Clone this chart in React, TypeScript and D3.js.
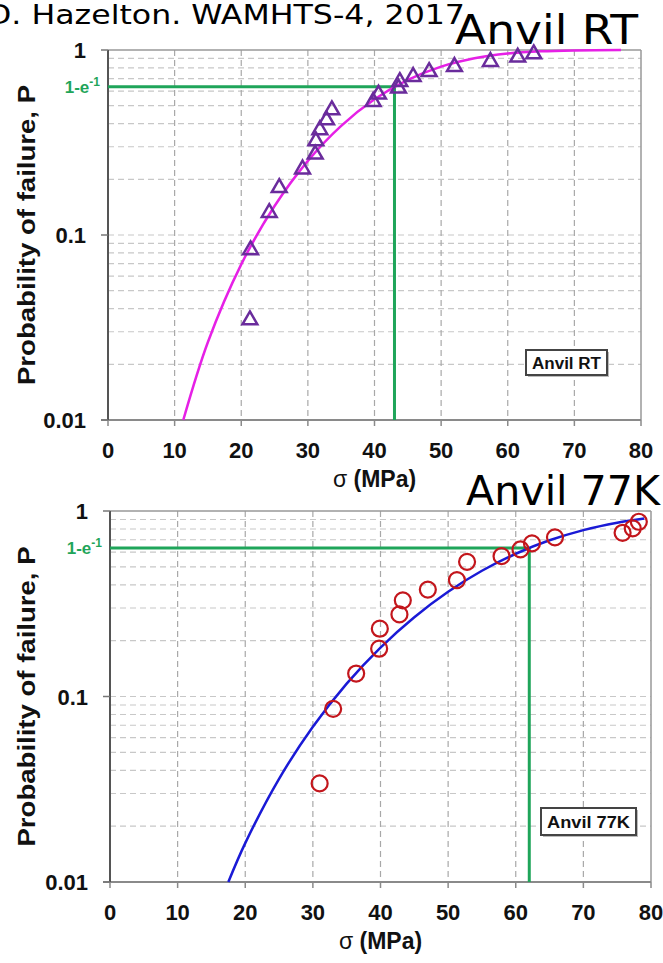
import React from "react";
import * as d3 from "d3";

// ---------- data ----------
const xTicks = [0, 10, 20, 30, 40, 50, 60, 70, 80];
const yTicks = [0.01, 0.1, 1];
const yTickLabels = ["0.01", "0.1", "1"];

// Anvil RT measured points
const rtSigma = [21.3, 21.4, 24.2, 25.7, 29.2, 31.1, 31.2, 31.8, 32.8, 33.6, 39.8, 40.6, 43.6, 43.8, 45.8, 48.2, 52.0, 57.4, 61.5, 63.9];
const rtP = [0.0347, 0.083, 0.132, 0.18, 0.227, 0.273, 0.322, 0.37, 0.418, 0.474, 0.526, 0.576, 0.621, 0.674, 0.718, 0.763, 0.813, 0.865, 0.913, 0.951];
// Anvil RT fit curve
const rtFitSigma = [11.3, 15, 20, 25, 30, 35, 40, 45, 50, 55, 60, 65, 70, 77];
const rtFitP = [0.01, 0.0264, 0.0694, 0.1434, 0.2516, 0.389, 0.5414, 0.6894, 0.8136, 0.9029, 0.957, 0.9841, 0.9952, 0.9994];
const rtSigma0 = 43;

// Anvil 77K measured points
const k77Sigma = [31.0, 33.0, 36.4, 39.8, 39.9, 42.8, 43.3, 47.0, 51.3, 52.8, 57.9, 60.7, 62.4, 65.8, 75.8, 77.3, 78.2];
const k77P = [0.034, 0.0858, 0.133, 0.181, 0.232, 0.277, 0.33, 0.377, 0.424, 0.532, 0.571, 0.621, 0.669, 0.721, 0.763, 0.806, 0.875];
// Anvil 77K fit curve
const k77FitSigma = [17.5, 20, 25, 30, 35, 40, 45, 50, 55, 60, 65, 70, 75, 79];
const k77FitP = [0.01, 0.0162, 0.036, 0.0687, 0.1173, 0.1836, 0.2676, 0.3668, 0.4762, 0.5883, 0.6951, 0.789, 0.8647, 0.9108];
const k77Sigma0 = 62;

const pChar = 1 - Math.exp(-1);

const GREEN = "#1fa55a";
const AX_FONT = "'Liberation Sans', Arial, sans-serif";
const HAND_FONT = "'DejaVu Sans', 'Open Sans', sans-serif";

type PanelProps = {
  box: { left: number; right: number; top: number; bottom: number };
  sig: number[];
  p: number[];
  fitSig: number[];
  fitP: number[];
  sigma0: number;
  marker: "triangle" | "circle";
  curveColor: string;
  legend: string;
  legendBox: { x: number; y: number; w: number; h: number };
};

function Panel(props: PanelProps) {
  const { box, sig, p, fitSig, fitP, sigma0, marker, curveColor, legend, legendBox } = props;
  const x = d3.scaleLinear().domain([0, 80]).range([box.left, box.right]);
  const y = d3.scaleLog().domain([0.01, 1]).range([box.bottom, box.top]);

  const minor: number[] = [];
  [0.01, 0.1].forEach((d) => {
    for (let k = 2; k <= 10; k++) {
      const v = +(k * d).toFixed(4);
      if (v < 1) minor.push(v);
    }
  });

  const fitPts: [number, number][] = fitSig.map((s, i) => [s, fitP[i]]);
  const line = d3
    .line<[number, number]>()
    .x((d) => x(d[0]))
    .y((d) => y(d[1]))
    .curve(d3.curveCatmullRom);

  const tri = d3.symbol().type(d3.symbolTriangle).size(95)();

  const yC = (box.top + box.bottom) / 2;
  const xC = (box.left + box.right) / 2;

  return (
    <g>
      {/* horizontal minor grid */}
      {minor.map((v) => (
        <line key={"h" + v} x1={box.left} x2={box.right} y1={y(v)} y2={y(v)} stroke="#c8c8c8" strokeWidth={1.2} strokeDasharray="6,4" />
      ))}
      {/* vertical grid */}
      {xTicks.slice(1, -1).map((v) => (
        <line key={"v" + v} x1={x(v)} x2={x(v)} y1={box.top} y2={box.bottom} stroke="#a8a8a8" strokeWidth={1.2} strokeDasharray="6,4" />
      ))}
      {/* frame */}
      <line x1={box.left} x2={box.right} y1={box.top} y2={box.top} stroke="#999" strokeWidth={1.5} />
      <line x1={box.right} x2={box.right} y1={box.top} y2={box.bottom} stroke="#999" strokeWidth={1.5} />
      <line x1={box.left - 7} x2={box.right} y1={box.bottom} y2={box.bottom} stroke="#8a8a8a" strokeWidth={2} />
      <line x1={box.left} x2={box.left} y1={box.top} y2={box.bottom} stroke="#555" strokeWidth={2} />
      {/* ticks */}
      {xTicks.map((v) => (
        <line key={"xt" + v} x1={x(v)} x2={x(v)} y1={box.bottom} y2={box.bottom + 6} stroke="#8a8a8a" strokeWidth={1.5} />
      ))}
      {yTicks.map((v) => (
        <line key={"yt" + v} x1={box.left - 7} x2={box.left} y1={y(v)} y2={y(v)} stroke="#777" strokeWidth={1.5} />
      ))}
      {/* tick labels */}
      {xTicks.map((v) => (
        <text key={"xl" + v} x={x(v)} y={box.bottom + 38} textAnchor="middle" fontFamily={AX_FONT} fontWeight="bold" fontSize={22} fill="#111">
          {v}
        </text>
      ))}
      {yTicks.map((v, i) => (
        <text key={"yl" + v} x={box.left - 22} y={y(v) + 8} textAnchor="end" fontFamily={AX_FONT} fontWeight="bold" fontSize={22} fill="#111">
          {yTickLabels[i]}
        </text>
      ))}
      <text x={box.left - 8} y={y(pChar) + 6} textAnchor="end" fontFamily={AX_FONT} fontWeight="bold" fontSize={17} fill={GREEN}>
        1-e<tspan dy={-7} fontSize={12}>-1</tspan>
      </text>
      {/* axis titles */}
      <text transform={`translate(35,${yC}) rotate(-90)`} textAnchor="middle" fontFamily={AX_FONT} fontWeight="bold" fontSize={23} fill="#111" textLength={300} lengthAdjust="spacingAndGlyphs">
        Probability of failure, P
      </text>
      <text x={xC} y={box.bottom + 67} textAnchor="middle" fontFamily={AX_FONT} fontSize={23} fill="#111">
        <tspan>σ</tspan>
        <tspan fontWeight="bold"> (MPa)</tspan>
      </text>
      {/* characteristic strength lines */}
      <line x1={box.left} x2={x(sigma0)} y1={y(pChar)} y2={y(pChar)} stroke={GREEN} strokeWidth={3} />
      <line x1={x(sigma0)} x2={x(sigma0)} y1={y(pChar)} y2={box.bottom} stroke={GREEN} strokeWidth={3} />
      {/* fit curve */}
      <path d={line(fitPts) || ""} fill="none" stroke={curveColor} strokeWidth={2.5} />
      {/* points */}
      {sig.map((s, i) =>
        marker === "triangle" ? (
          <path key={"m" + i} d={tri || ""} transform={`translate(${x(s)},${y(p[i])})`} fill="none" stroke="#6a2c9c" strokeWidth={2.5} />
        ) : (
          <circle key={"m" + i} cx={x(s)} cy={y(p[i])} r={8} fill="none" stroke="#c3161c" strokeWidth={2.2} />
        )
      )}
      {/* legend box */}
      <rect x={legendBox.x + 2} y={legendBox.y + 2} width={legendBox.w} height={legendBox.h} fill="#bbb" />
      <rect x={legendBox.x} y={legendBox.y} width={legendBox.w} height={legendBox.h} fill="#fff" stroke="#444" strokeWidth={2} />
      <text x={legendBox.x + legendBox.w / 2} y={legendBox.y + legendBox.h / 2 + 6} textAnchor="middle" fontFamily={AX_FONT} fontWeight="bold" fontSize={16} fill="#111" textLength={legendBox.w - 12} lengthAdjust="spacingAndGlyphs">
        {legend}
      </text>
    </g>
  );
}

export default function App() {
  return (
    <svg width={663} height={963} style={{ position: "absolute", left: 0, top: 0, background: "#fff" }}>
      <rect x={0} y={0} width={663} height={963} fill="#fff" />
      <Panel
        box={{ left: 108, right: 641, top: 50, bottom: 420 }}
        sig={rtSigma}
        p={rtP}
        fitSig={rtFitSigma}
        fitP={rtFitP}
        sigma0={rtSigma0}
        marker="triangle"
        curveColor="#e620e6"
        legend="Anvil RT"
        legendBox={{ x: 526, y: 350, w: 81, h: 25 }}
      />
      <Panel
        box={{ left: 110, right: 651, top: 511, bottom: 882 }}
        sig={k77Sigma}
        p={k77P}
        fitSig={k77FitSigma}
        fitP={k77FitP}
        sigma0={k77Sigma0}
        marker="circle"
        curveColor="#1a1ad6"
        legend="Anvil 77K"
        legendBox={{ x: 541, y: 808, w: 95, h: 27 }}
      />
      <text x={-13} y={24} fontFamily={HAND_FONT} fontSize={27} fill="#000" textLength={478} lengthAdjust="spacingAndGlyphs">
        D. Hazelton. WAMHTS-4, 2017
      </text>
      <text x={455} y={44} fontFamily={HAND_FONT} fontSize={40} fill="#000" textLength={183} lengthAdjust="spacingAndGlyphs">
        Anvil RT
      </text>
      <text x={466} y={505} fontFamily={HAND_FONT} fontSize={40} fill="#000" textLength={194} lengthAdjust="spacingAndGlyphs">
        Anvil 77K
      </text>
    </svg>
  );
}
